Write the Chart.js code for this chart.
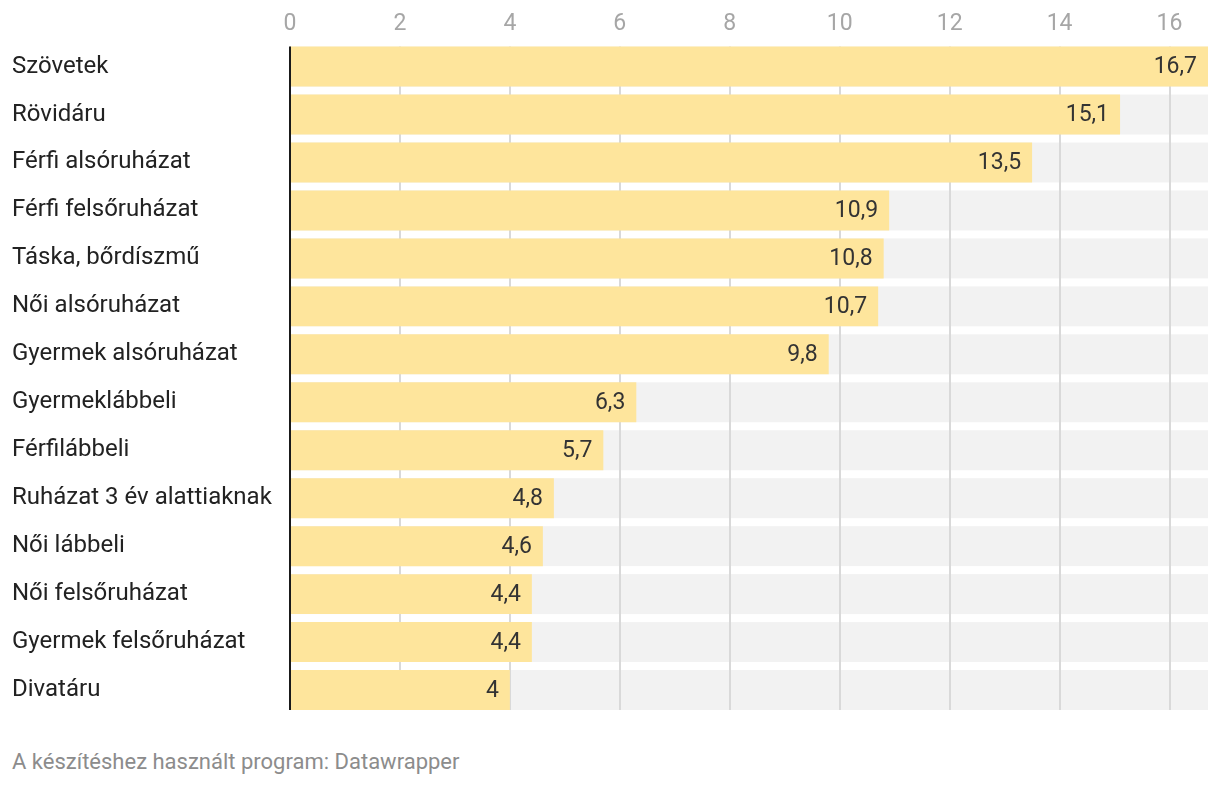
<!DOCTYPE html>
<html>
<head>
<meta charset="utf-8">
<script src="https://cdn.jsdelivr.net/npm/chart.js@4"></script>
<style>
  body { margin: 0; background: #fff; font-family: Roboto, sans-serif; }
  #wrap { position: relative; width: 1220px; height: 786px; }
  #footer { position: absolute; left: 12px; top: 749px; font-size: 22px; color: #8c8c8c; }
</style>
</head>
<body>
<div id="wrap">
  <canvas id="barChart" width="1220" height="730"></canvas>
  <div id="footer">A készítéshez használt program: Datawrapper</div>
</div>
<script>
const categories = [
    'Szövetek', 'Rövidáru', 'Férfi alsóruházat', 'Férfi felsőruházat',
    'Táska, bőrdíszmű', 'Női alsóruházat', 'Gyermek alsóruházat',
    'Gyermeklábbeli', 'Férfilábbeli', 'Ruházat 3 év alattiaknak',
    'Női lábbeli', 'Női felsőruházat', 'Gyermek felsőruházat', 'Divatáru'
];
const values = [16.7, 15.1, 13.5, 10.9, 10.8, 10.7, 9.8, 6.3, 5.7, 4.8, 4.6, 4.4, 4.4, 4];
const ticks = [0, 2, 4, 6, 8, 10, 12, 14, 16];
const maxValue = 16.7;

// grey rows behind the bars, grid lines, axis line and value labels
const decor = {
    id: 'decor',
    beforeDatasetsDraw(chart) {
        const ctx = chart.ctx;
        const x = chart.scales.x;
        const bars = chart.getDatasetMeta(0).data;
        const x0 = x.getPixelForValue(0);
        const x1 = x.getPixelForValue(maxValue);
        ctx.save();
        ctx.fillStyle = '#f2f2f2';
        bars.forEach(b => {
            ctx.fillRect(x0, b.y - b.height / 2, x1 - x0, b.height);
        });
        const top = bars[0].y - bars[0].height / 2;
        const bottom = bars[bars.length - 1].y + bars[bars.length - 1].height / 2;
        ctx.strokeStyle = '#d9d9d9';
        ctx.lineWidth = 2;
        ticks.forEach(t => {
            if (t === 0) return;
            const px = Math.round(x.getPixelForValue(t));
            ctx.beginPath();
            ctx.moveTo(px, top);
            ctx.lineTo(px, bottom);
            ctx.stroke();
        });
        ctx.restore();
    },
    afterDatasetsDraw(chart) {
        const ctx = chart.ctx;
        const x = chart.scales.x;
        const bars = chart.getDatasetMeta(0).data;
        const top = bars[0].y - bars[0].height / 2;
        const bottom = bars[bars.length - 1].y + bars[bars.length - 1].height / 2;
        ctx.save();
        ctx.strokeStyle = '#1a1a1a';
        ctx.lineWidth = 2;
        ctx.beginPath();
        ctx.moveTo(x.getPixelForValue(0), top);
        ctx.lineTo(x.getPixelForValue(0), bottom);
        ctx.stroke();

        ctx.font = '23px Roboto';
        ctx.fillStyle = '#333';
        ctx.textAlign = 'right';
        ctx.textBaseline = 'middle';
        bars.forEach((b, i) => {
            ctx.fillText(String(values[i]).replace('.', ','), b.x - 11, b.y + 1);
        });
        ctx.restore();
    }
};

new Chart(document.getElementById('barChart').getContext('2d'), {
    type: 'bar',
    data: {
        labels: categories,
        datasets: [{
            data: values,
            backgroundColor: '#fee59c',
            borderWidth: 0,
            categoryPercentage: 40 / 48,
            barPercentage: 1
        }]
    },
    options: {
        indexAxis: 'y',
        responsive: false,
        animation: false,
        layout: { padding: { left: 12, right: 12, top: 5, bottom: 16 } },
        plugins: {
            legend: { display: false },
            tooltip: { enabled: false }
        },
        scales: {
            x: {
                position: 'top',
                min: 0,
                max: maxValue,
                afterBuildTicks: scale => {
                    scale.ticks = ticks.map(v => ({ value: v }));
                },
                grid: { display: false, drawTicks: false },
                border: { display: false },
                ticks: {
                    color: '#a6a6a6',
                    font: { family: 'Roboto', size: 23 },
                    padding: 5,
                    maxRotation: 0
                }
            },
            y: {
                afterFit: scale => { scale.width = 278; },
                grid: { display: false, drawTicks: false },
                border: { display: false },
                ticks: {
                    crossAlign: 'far',
                    color: '#222',
                    font: { family: 'Roboto', size: 24 },
                    padding: 0
                }
            }
        }
    },
    plugins: [decor]
});
</script>
</body>
</html>
